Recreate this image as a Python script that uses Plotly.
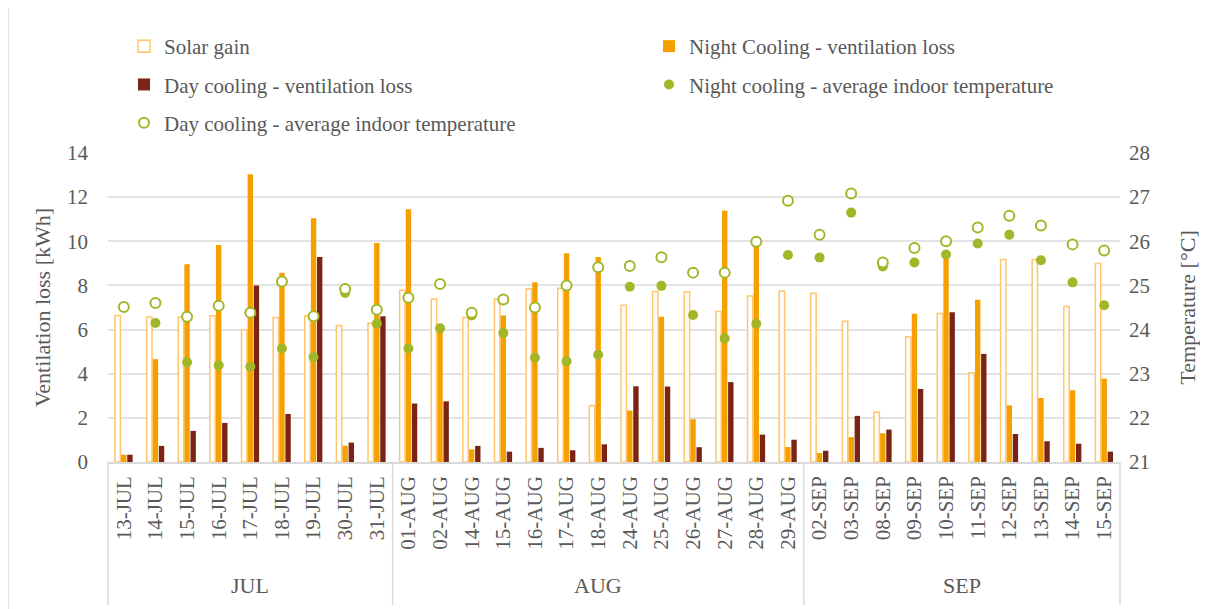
import plotly.graph_objects as go

months = ["JUL"] * 9 + ["AUG"] * 13 + ["SEP"] * 10
days = ["13-JUL", "14-JUL", "15-JUL", "16-JUL", "17-JUL", "18-JUL", "19-JUL", "30-JUL", "31-JUL",
        "01-AUG", "02-AUG", "14-AUG", "15-AUG", "16-AUG", "17-AUG", "18-AUG", "24-AUG", "25-AUG",
        "26-AUG", "27-AUG", "28-AUG", "29-AUG",
        "02-SEP", "03-SEP", "08-SEP", "09-SEP", "10-SEP", "11-SEP", "12-SEP", "13-SEP", "14-SEP", "15-SEP"]

solar_gain = [6.64, 6.57, 6.57, 6.63, 5.98, 6.55, 6.63, 6.19, 6.29,
              7.78, 7.38, 6.55, 7.38, 7.85, 7.87, 2.56, 7.10, 7.73, 7.70, 6.82, 7.52, 7.75,
              7.65, 6.38, 2.25, 5.66, 6.73, 4.04, 9.17, 9.17, 7.05, 8.99]
night_vent = [0.33, 4.66, 8.96, 9.83, 13.04, 8.58, 11.04, 0.74, 9.92,
              11.45, 6.0, 0.57, 6.64, 8.14, 9.46, 9.29, 2.33, 6.58, 1.94, 11.38, 9.8, 0.68,
              0.41, 1.13, 1.30, 6.72, 9.4, 7.35, 2.57, 2.90, 3.25, 3.78]
day_vent = [0.33, 0.73, 1.41, 1.77, 8.0, 2.18, 9.29, 0.88, 6.60,
            2.65, 2.75, 0.73, 0.47, 0.64, 0.53, 0.80, 3.43, 3.42, 0.67, 3.62, 1.24, 1.01,
            0.51, 2.09, 1.47, 3.31, 6.78, 4.90, 1.27, 0.94, 0.83, 0.47]
night_temp = [None, 24.15, 23.26, 23.19, 23.16, 23.57, 23.38, 24.83, 24.13,
              23.57, 24.03, 24.32, 23.92, 23.36, 23.28, 23.43, 24.97, 24.99, 24.33, 23.80, 24.13, 25.69,
              25.63, 26.65, 25.43, 25.52, 25.70, 25.95, 26.15, 25.57, 25.07, 24.55]
day_temp = [24.51, 24.60, 24.29, 24.54, 24.38, 25.09, 24.30, 24.92, 24.45,
            24.72, 25.03, 24.38, 24.68, 24.50, 25.00, 25.41, 25.44, 25.64, 25.29, 25.29, 25.99, 26.92,
            26.15, 27.08, 25.52, 25.85, 26.00, 26.31, 26.58, 26.36, 25.93, 25.79]

FONT = "Liberation Serif"
TXT = "#595959"
GREEN = "#A2B628"
LINEC = "#D9D9D9"
N = len(days)

fig = go.Figure()
fig.add_trace(go.Bar(x=days, y=solar_gain, name="Solar gain", legendgroup="a",
                     marker=dict(color="white", line=dict(color="#FFC66B", width=1.5)),
                     legend="legend"))
fig.add_trace(go.Bar(x=days, y=night_vent, name="Night Cooling - ventilation loss", legendgroup="b",
                     marker=dict(color="#F59F00", line=dict(width=0)), legend="legend2"))
fig.add_trace(go.Bar(x=days, y=day_vent, name="Day cooling - ventilation loss", legendgroup="c",
                     marker=dict(color="#7A2416", line=dict(width=0)), legend="legend"))
fig.add_trace(go.Scatter(x=days, y=night_temp, name="Night cooling - average indoor temperature",
                         legendgroup="d", mode="markers", yaxis="y2",
                         marker=dict(symbol="circle", size=10, color=GREEN, line=dict(width=0)),
                         legend="legend2"))
fig.add_trace(go.Scatter(x=days, y=day_temp, name="Day cooling - average indoor temperature",
                         legendgroup="e", mode="markers", yaxis="y2",
                         marker=dict(symbol="circle", size=10, color="white", line=dict(color=GREEN, width=2)),
                         legend="legend"))

# month group dividers and labels under the day labels
PW, PH = 1012, 309
shapes = [dict(type="line", xref="paper", yref="paper", x0=-100 / PW, x1=-100 / PW,
               y0=-147 / PH, y1=1 + 145 / PH, line=dict(color=LINEC, width=1.5))]
annotations = []
groups = []
for i, m in enumerate(months):
    if not groups or groups[-1][0] != m:
        groups.append([m, i, i])
    groups[-1][2] = i
bounds = sorted({g[1] for g in groups} | {g[2] + 1 for g in groups})
for b in bounds:
    shapes.append(dict(type="line", xref="paper", yref="paper", x0=b / N, x1=b / N,
                       y0=0, y1=-143 / PH, line=dict(color=LINEC, width=1.5)))
for m, s, e in groups:
    annotations.append(dict(text=m, xref="paper", yref="paper", x=(s + e + 1) / 2 / N,
                            y=-123 / PH, showarrow=False, xanchor="center", yanchor="middle",
                            font=dict(family=FONT, size=22, color=TXT)))

legend_common = dict(orientation="v", xanchor="left", yanchor="top",
                     font=dict(family=FONT, size=21, color=TXT), bgcolor="rgba(0,0,0,0)",
                     tracegroupgap=8, itemwidth=30)
fig.update_layout(
    width=1200, height=601,
    margin=dict(l=100, r=88, t=145, b=147, autoexpand=False),
    paper_bgcolor="white", plot_bgcolor="white",
    font=dict(family=FONT, color=TXT),
    barmode="group", bargap=0.42, bargroupgap=0.12,
    legend=dict(x=(116 - 100) / PW, y=1 + (145 - 18) / PH, **legend_common),
    legend2=dict(x=(641 - 100) / PW, y=1 + (145 - 18) / PH, **legend_common),
    xaxis=dict(type="category", range=[-0.5, N - 0.5], tickangle=-90, showgrid=False,
               tickfont=dict(family=FONT, size=21, color=TXT), ticklabelstandoff=4,
               showline=True, linecolor=LINEC, linewidth=1.5,
               ticks="", automargin=False),
    yaxis=dict(range=[0, 14], dtick=2, showgrid=True, gridcolor="#E3E3E3", gridwidth=1.5,
               zeroline=False, showline=False, ticks="", ticklabelstandoff=19,
               tickfont=dict(family=FONT, size=21, color=TXT),
               title=dict(text="Ventilation loss [kWh]", font=dict(family=FONT, size=22, color=TXT), standoff=10),
               automargin=False),
    yaxis2=dict(range=[21, 28], dtick=1, overlaying="y", side="right", showgrid=False,
                zeroline=False, showline=False, ticks="", ticklabelstandoff=8,
                tickfont=dict(family=FONT, size=21, color=TXT),
                title=dict(text="Temperature [°C]", font=dict(family=FONT, size=22, color=TXT), standoff=30),
                automargin=False),
    shapes=shapes,
    annotations=annotations,
)

fig.write_html("out.html")
